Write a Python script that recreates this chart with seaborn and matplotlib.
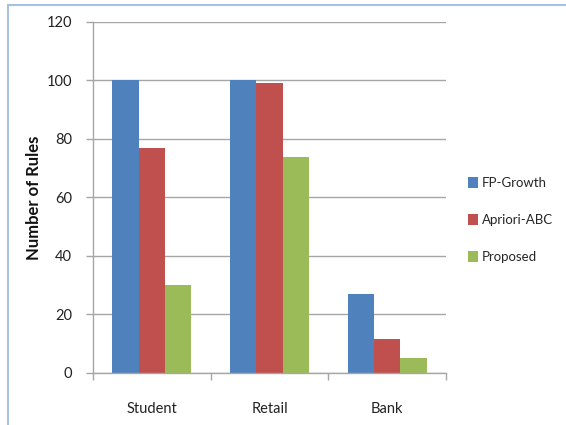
import matplotlib
matplotlib.use("Agg")
import matplotlib.pyplot as plt
import seaborn as sns
import pandas as pd
from matplotlib.patches import Rectangle

categories = ["Student", "Retail", "Bank"]
series = ["FP-Growth", "Apriori-ABC", "Proposed"]
fp_growth = [100, 100, 27]
apriori_abc = [77, 99, 11.5]
proposed = [30, 74, 5]
colors = ["#4F81BD", "#C0504D", "#9BBB59"]
y_ticks = [0, 20, 40, 60, 80, 100, 120]

rows = []
for name, vals in zip(series, [fp_growth, apriori_abc, proposed]):
    for c, v in zip(categories, vals):
        rows.append({"Dataset": c, "Algorithm": name, "Rules": v})
df = pd.DataFrame(rows)

sns.set_style("white")
plt.rcParams["font.family"] = ["Lato", "DejaVu Sans"]

fig = plt.figure(figsize=(5.66, 4.25), dpi=100)
ax = fig.add_axes([0.1643, 0.1224, 0.6237, 0.8259])

sns.barplot(data=df, x="Dataset", y="Rules", hue="Algorithm", order=categories,
            hue_order=series, palette=colors, width=0.67, gap=0, saturation=1,
            edgecolor="none", linewidth=0, ax=ax)

ax.set_ylim(0, 120)
ax.set_xlim(-0.5, 2.5)
ax.set_yticks(y_ticks)
ax.set_yticklabels([str(t) for t in y_ticks], fontsize=10.5, color="#222222")
ax.yaxis.grid(True, color="#A6A6A6", linewidth=1)
ax.set_axisbelow(True)
ax.tick_params(axis="y", length=5, width=1, color="#A6A6A6", pad=10, direction="out", left=True)
ax.set_xticks(range(len(categories)))
ax.set_xticklabels(categories, fontsize=10.5, color="#222222")
ax.set_xticks([-0.5, 0.5, 1.5, 2.5], minor=True)
ax.tick_params(axis="x", which="major", length=0, pad=21)
ax.tick_params(axis="x", which="minor", length=5, width=1, color="#A6A6A6", direction="out", bottom=True)
for s in ["top", "right"]:
    ax.spines[s].set_visible(False)
for s in ["left", "bottom"]:
    ax.spines[s].set_color("#A6A6A6")
    ax.spines[s].set_linewidth(1)
ax.set_xlabel("")
ax.set_ylabel("Number of Rules", fontsize=12, fontweight="bold", labelpad=3, color="#111111")

leg = ax.legend(loc="center left", bbox_to_anchor=(1.03, 0.436), frameon=False,
                fontsize=9.5, handlelength=0.7, handleheight=0.9, handletextpad=0.3,
                labelspacing=1.9)

fig.patches.append(Rectangle((8 / 566, -0.1), 1.2, 1 - 5 / 425 + 0.1, transform=fig.transFigure,
                             fill=False, edgecolor="#A9C1E0", linewidth=1.5, zorder=0))

fig.savefig("out.png", dpi=100)
